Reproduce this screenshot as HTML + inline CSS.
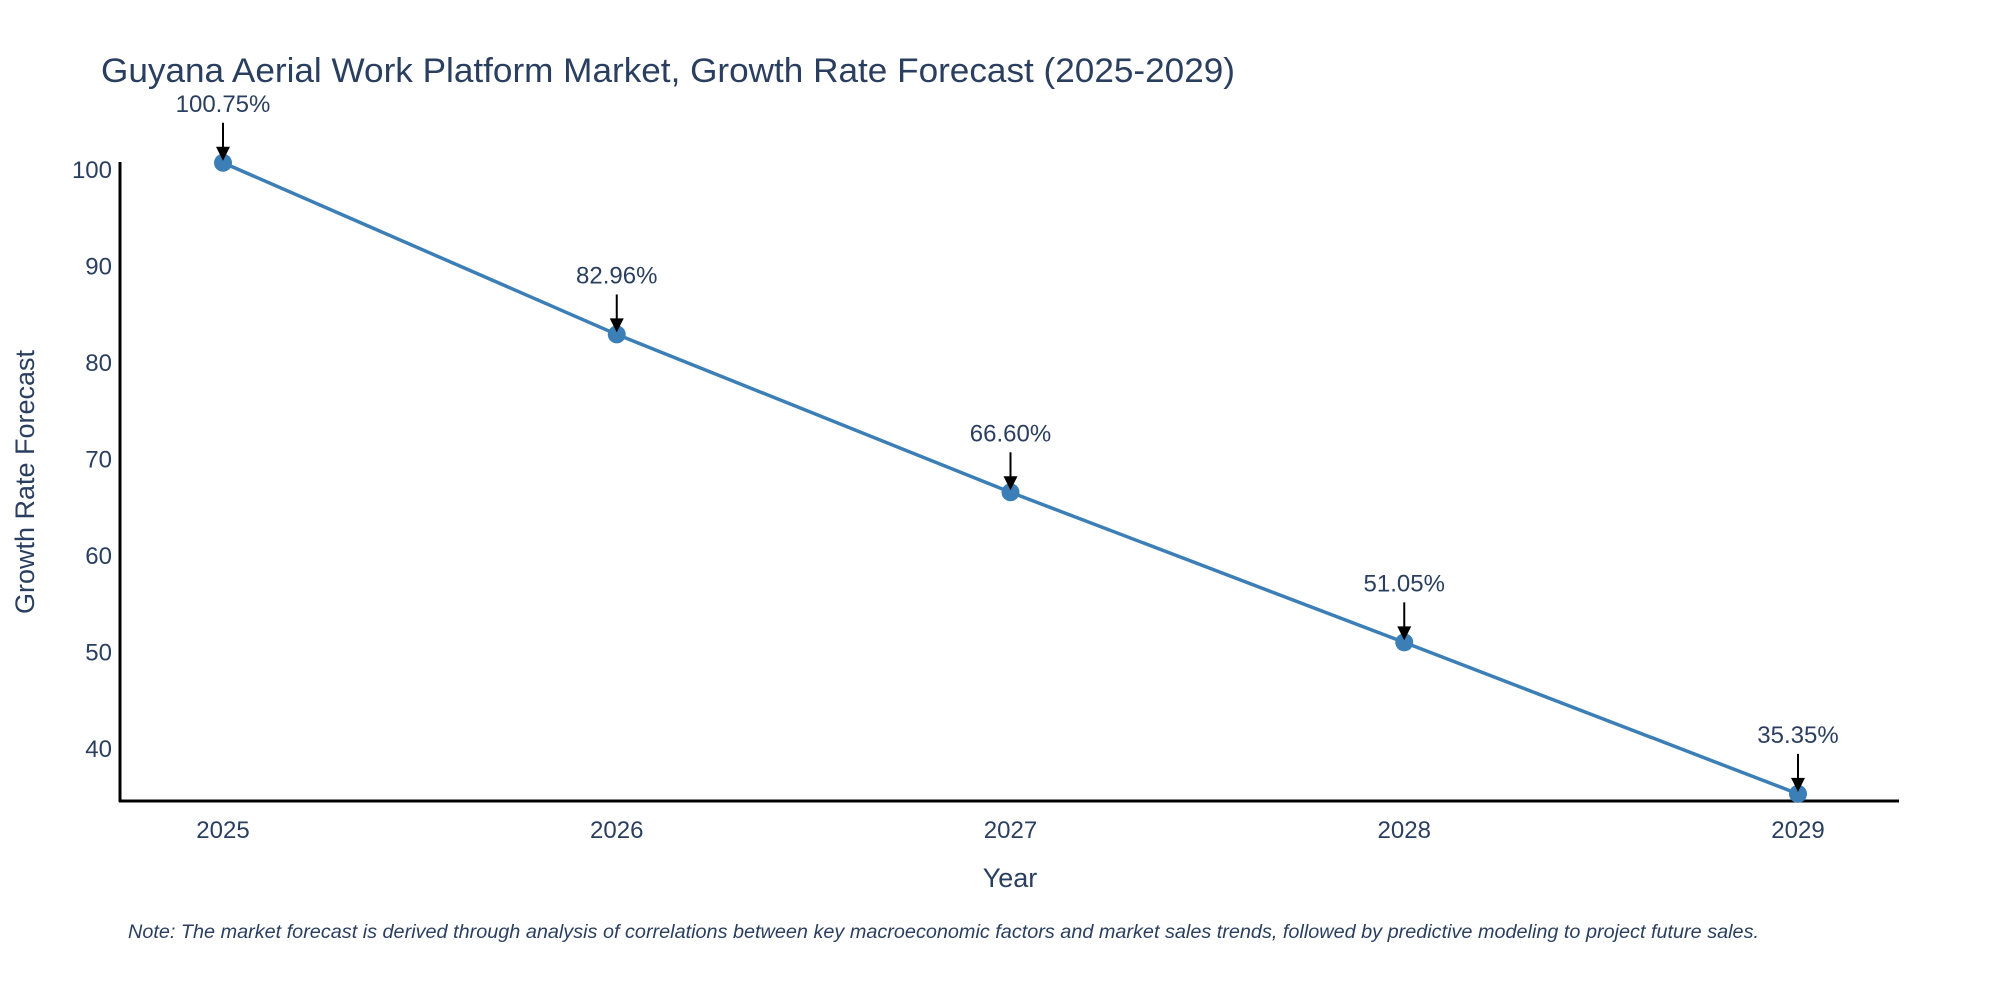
<!DOCTYPE html>
<html><head><meta charset="utf-8"><style>
html,body{margin:0;padding:0;background:#fff;}
svg{display:block;font-family:"Liberation Sans","DejaVu Sans",sans-serif;}
</style></head><body>
<svg id="chart" width="2000" height="1000" viewBox="0 0 2000 1000">
<text x="101" y="82" font-size="34" fill="#2a3f5f" textLength="1134" lengthAdjust="spacingAndGlyphs">Guyana Aerial Work Platform Market, Growth Rate Forecast (2025-2029)</text>
<g id="yticks"></g><g id="xticks"></g>
<line x1="120" y1="162" x2="120" y2="802" stroke="#000" stroke-width="3"/>
<line x1="119" y1="801" x2="1899" y2="801" stroke="#000" stroke-width="3"/>
<g id="series"></g>
<text x="1010" y="887" font-size="27" fill="#2a3f5f" text-anchor="middle">Year</text>
<text x="0" y="0" font-size="27" fill="#2a3f5f" text-anchor="middle" transform="translate(34,482) rotate(-90)">Growth Rate Forecast</text>
<text x="128" y="938" font-size="19" font-style="italic" fill="#2a3f5f" textLength="1631" lengthAdjust="spacingAndGlyphs">Note: The market forecast is derived through analysis of correlations between key macroeconomic factors and market sales trends, followed by predictive modeling to project future sales.</text>
</svg>
<script>
const years = [2025, 2026, 2027, 2028, 2029];
const values = [100.75, 82.96, 66.60, 51.05, 35.35];
const yTickValues = [40, 50, 60, 70, 80, 90, 100];
const NS = 'http://www.w3.org/2000/svg';
function xScale(y){ return 223 + (y - 2025) * (1798 - 223) / 4; }
function yScale(v){ return 749 - (v - 40) * (749 - 170) / 60; }
function mk(tag, attrs, parent){ const e=document.createElementNS(NS,tag); for(const k in attrs) e.setAttribute(k,attrs[k]); parent.appendChild(e); return e; }
const yt=document.getElementById('yticks'), xt=document.getElementById('xticks'), s=document.getElementById('series');
yTickValues.forEach(v=>{
  const t=mk('text',{x:112,y:yScale(v)+8,'font-size':24,fill:'#2a3f5f','text-anchor':'end'},yt);
  t.textContent=v;
  
  
});
years.forEach(y=>{
  const t=mk('text',{x:xScale(y),y:838,'font-size':24,fill:'#2a3f5f','text-anchor':'middle'},xt);
  t.textContent=y;
  
  
});
const pts=years.map((y,i)=>xScale(y)+','+yScale(values[i])).join(' ');
const line=mk('polyline',{points:pts,fill:'none',stroke:'#3c7fb6','stroke-width':3.5},s);


years.forEach((y,i)=>{
  const cx=xScale(y), cy=yScale(values[i]);
  const c=mk('circle',{cx:cx,cy:cy,r:9,fill:'#3c7fb6'},s);
  
  
  const a=mk('line',{x1:cx,y1:cy-40,x2:cx,y2:cy-14,stroke:'#000','stroke-width':2},s);
  
  
  const h=mk('path',{d:`M${cx-7},${cy-16} L${cx+7},${cy-16} L${cx},${cy-2} Z`,fill:'#000'},s);
  
  
  const t=mk('text',{x:cx,y:cy-51,'font-size':24,fill:'#2a3f5f','text-anchor':'middle'},s);
  t.textContent=values[i].toFixed(2)+'%';
  
  
});
</script>
</body></html>
